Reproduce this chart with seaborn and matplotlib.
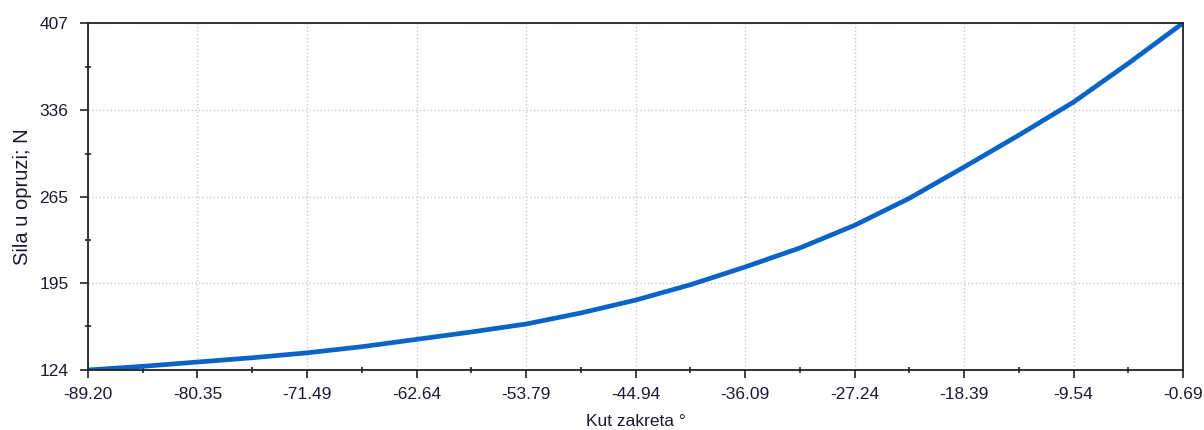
import numpy as np
import pandas as pd
import matplotlib
matplotlib.use('Agg')
import matplotlib.pyplot as plt
import seaborn as sns
from matplotlib.ticker import FixedLocator, FuncFormatter

# values
angle = [-89.20, -84.78, -80.35, -75.92, -71.49, -67.07, -62.64, -58.22,
         -53.79, -49.37, -44.94, -40.52, -36.09, -31.67, -27.24, -22.82,
         -18.39, -13.97, -9.54, -5.12, -0.69]
force = [124, 127, 130.5, 134, 138, 143, 149, 155,
         161.5, 170.5, 181, 193.5, 208, 223.5, 242, 264,
         289.5, 315.5, 342.5, 374, 407]

x_ticks = [-89.20, -80.35, -71.49, -62.64, -53.79, -44.94, -36.09, -27.24, -18.39, -9.54, -0.69]
y_ticks = [124, 195, 265, 336, 407]

sns.set_style('white')
plt.rcParams['font.family'] = ['Liberation Sans', 'DejaVu Sans']

df = pd.DataFrame({'angle': angle, 'force': force})

fig, ax = plt.subplots(figsize=(12.04, 4.30), dpi=100)
fig.subplots_adjust(left=0.073, right=0.9826, top=0.9465, bottom=0.1395)

sns.lineplot(data=df, x='angle', y='force', ax=ax, color='#0a64c8', linewidth=3.4)

ax.set_xlim(x_ticks[0], x_ticks[-1])
ax.set_ylim(y_ticks[0], y_ticks[-1])
ax.xaxis.set_major_locator(FixedLocator(x_ticks))
ax.yaxis.set_major_locator(FixedLocator(y_ticks))
ax.xaxis.set_minor_locator(FixedLocator([(a + b) / 2 for a, b in zip(x_ticks[:-1], x_ticks[1:])]))
ax.yaxis.set_minor_locator(FixedLocator([(a + b) / 2 for a, b in zip(y_ticks[:-1], y_ticks[1:])]))
ax.xaxis.set_major_formatter(FuncFormatter(lambda v, p: f'{v:.2f}'))
ax.yaxis.set_major_formatter(FuncFormatter(lambda v, p: f'{v:.0f}'))

ax.grid(True, which='major', color='#c8c8c8', linestyle=':', linewidth=1)
for s in ax.spines.values():
    s.set_color('#222222')
    s.set_linewidth(1.3)

ax.tick_params(which='both', bottom=True, left=True, top=False, right=False)
ax.tick_params(which='major', direction='out', length=6, width=1.2, color='#222222',
               labelsize=12.5, labelcolor='#1a1a33')
ax.tick_params(axis='x', which='major', pad=6)
ax.tick_params(axis='y', which='major', pad=8)
ax.tick_params(which='minor', direction='inout', length=5, width=1.2, color='#222222')

ax.set_xlabel('Kut zakreta °', fontsize=12.5, color='#1a1a33', labelpad=9)
ax.set_ylabel('Sila u opruzi; N', fontsize=14.5, color='#1a1a33', labelpad=5)

fig.savefig('out.png', dpi=100)
